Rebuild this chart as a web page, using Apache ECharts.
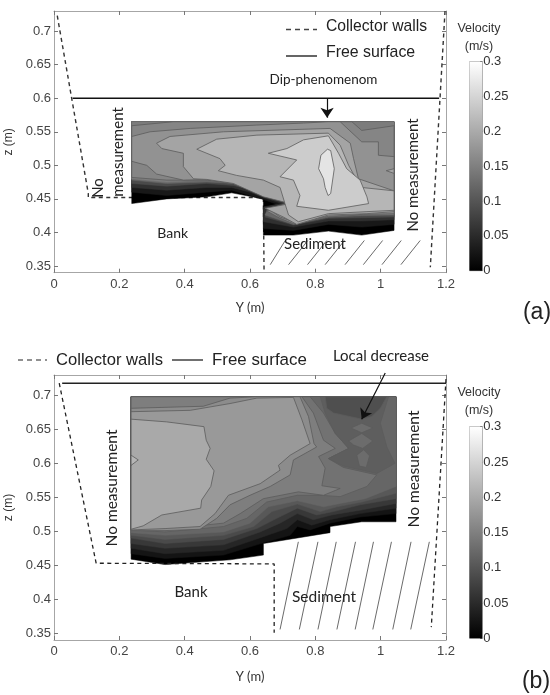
<!DOCTYPE html>
<html><head><meta charset="utf-8">
<style>html,body{margin:0;padding:0;background:#fff}#c{width:550px;height:695px}</style>
<script src="https://cdn.jsdelivr.net/npm/echarts@6/dist/echarts.min.js"></script>
</head><body><div id="c"></div>
<script>
// ---- axis values
const yTicks = [0,0.2,0.4,0.6,0.8,1,1.2];
const zTicks = [0.35,0.4,0.45,0.5,0.55,0.6,0.65,0.7];
const velocityTicks = [0,0.05,0.1,0.15,0.2,0.25,0.3];

// ---- panel (a): measured section outline and bottom bands (edge read left to right, z above is filled)
const a_outline = [[.238,.565],[1.041,.565],[1.041,.403],[.942,.396],[.840,.402],[.733,.396],[.641,.396],[.641,.450],[.544,.459],[.468,.453],[.345,.450],[.238,.443]];
const a_band1 = [[.238,.460],[.345,.455],[.468,.460],[.544,.463],[.600,.455],[.641,.449],[.682,.442],[.641,.436],[.641,.406],[.733,.403],[.840,.412],[.942,.408],[1.041,.412]];
const a_band2 = [[.238,.467],[.345,.463],[.468,.467],[.544,.467],[.600,.460],[.641,.452],[.697,.443],[.641,.438],[.641,.416],[.733,.408],[.840,.417],[.942,.417],[1.041,.419]];
const a_band3 = [[.238,.473],[.345,.469],[.468,.473],[.549,.470],[.611,.463],[.651,.453],[.707,.444],[.651,.433],[.646,.423],[.733,.411],[.840,.421],[.942,.422],[1.041,.423]];
const a_band4 = [[.238,.478],[.345,.473],[.468,.475],[.559,.473],[.631,.458],[.672,.450],[.718,.444],[.651,.431],[.646,.426],[.733,.412],[.840,.423],[.942,.425],[1.041,.426]];
const a_band5 = [[.238,.480],[.345,.475],[.468,.478],[.549,.473],[.631,.459],[.718,.444],[.656,.433],[.733,.414],[.840,.424],[.942,.426],[1.041,.427]];
const a_bandVelocity = [0,.028,.056,.087,.122,.146];
// panel (a): closed contour regions
const a_c1 = [[.238,.559],[.365,.565],[.912,.565],[.942,.552],[1.041,.559],[1.041,.426],[.942,.426],[.840,.423],[.733,.413],[.692,.421],[.651,.432],[.718,.444],[.631,.459],[.549,.473],[.468,.478],[.345,.478],[.238,.482]];
const a_c2 = [[.238,.543],[.294,.550],[.417,.555],[.621,.560],[.764,.563],[.840,.565],[.876,.565],[.942,.535],[.993,.535],[.993,.515],[1.041,.513],[1.041,.428],[.948,.427],[.840,.424],[.733,.416],[.692,.423],[.656,.436],[.723,.443],[.631,.458],[.549,.473],[.468,.479],[.396,.478],[.314,.487],[.284,.500],[.238,.506]];
const a_c3 = [[.314,.533],[.355,.543],[.519,.550],[.845,.555],[.907,.533],[.917,.510],[.932,.480],[1.041,.462],[1.041,.431],[.958,.428],[.840,.426],[.743,.412],[.702,.423],[.646,.436],[.723,.443],[.641,.453],[.549,.473],[.468,.479],[.427,.480],[.396,.498],[.396,.518],[.330,.525]];
const a_c3b = [[1.017,.492],[1.041,.495],[1.041,.488]];
const a_c4 = [[.437,.524],[.498,.539],[.621,.545],[.840,.548],[.876,.530],[.902,.500],[.927,.478],[.942,.467],[1.041,.462],[1.041,.433],[.958,.431],[.840,.428],[.748,.416],[.718,.426],[.707,.443],[.692,.467],[.641,.478],[.559,.485],[.503,.492],[.524,.500],[.508,.510]];
const a_c5 = [[.656,.518],[.713,.525],[.764,.538],[.840,.544],[.871,.518],[.896,.495],[.937,.478],[.958,.453],[.963,.443],[.840,.433],[.743,.439],[.753,.455],[.733,.478],[.692,.483],[.743,.508]];
const a_c6 = [[.837,.524],[.847,.522],[.858,.495],[.847,.458],[.839,.455],[.830,.467],[.825,.480],[.810,.495],[.817,.515]];
const a_contours = [a_c1,a_c2,a_c3,a_c3b,a_c4,a_c5,a_c6];
const a_contourVelocity = [.156,.172,.193,.193,.214,.24,.268];
// panel (a): walls, surface, hatching
const a_wallLeft = [[.01,.723],[.105,.458],[.105,.452],[.641,.452],[.643,.343]];
const a_wallRight = [[1.197,.73],[1.152,.348]];
const a_surface = [[.057,.6],[1.179,.6]];
const a_hatchBottom = [.662,.718,.776,.830,.891,.947,1.004,1.062];
const a_hatchTop = [.708,.777,.835,.889,.950,1.006,1.063,1.121];
const a_arrow = [[.836,.6],[.836,.571]];

// ---- panel (b)
const b_outline = [[.236,.698],[1.047,.698],[1.047,.514],[.942,.514],[.845,.507],[.845,.498],[.641,.482],[.641,.465],[.539,.458],[.340,.451],[.236,.459]];
const b_band1 = [[.236,.467],[.340,.460],[.519,.465],[.641,.483],[.723,.494],[.745,.507],[.784,.502],[.845,.512],[.937,.521],[1.047,.526]];
const b_band2 = [[.236,.475],[.340,.467],[.519,.472],[.641,.492],[.713,.504],[.745,.517],[.789,.509],[.845,.517],[.937,.526],[1.047,.534]];
const b_band3 = [[.236,.482],[.340,.475],[.519,.480],[.631,.499],[.692,.512],[.745,.526],[.794,.517],[.850,.524],[.937,.531],[1.047,.541]];
const b_band4 = [[.236,.490],[.340,.482],[.519,.488],[.621,.504],[.682,.519],[.745,.534],[.804,.524],[.856,.529],[.937,.539],[1.047,.548]];
const b_band5 = [[.236,.494],[.340,.488],[.519,.494],[.611,.507],[.667,.529],[.745,.540],[.815,.529],[.866,.536],[.942,.543],[1.047,.556]];
const b_band6 = [[.236,.498],[.340,.494],[.519,.499],[.600,.512],[.656,.536],[.745,.545],[.825,.536],[.876,.541],[.953,.548],[1.047,.566]];
const b_bandVelocity = [0,.024,.045,.066,.087,.104,.12];
const b_c1 = [[.236,.698],[.784,.698],[.825,.674],[.861,.644],[.902,.622],[.840,.607],[.886,.594],[.988,.583],[.958,.566],[.876,.551],[.815,.553],[.745,.553],[.651,.543],[.590,.519],[.519,.507],[.340,.499],[.236,.502]];
const b_c2 = [[.236,.698],[.759,.698],[.794,.674],[.825,.634],[.861,.622],[.810,.610],[.830,.593],[.820,.567],[.876,.563],[.825,.553],[.748,.558],[.641,.548],[.570,.526],[.519,.512],[.340,.503],[.236,.503]];
const b_c3 = [[.236,.681],[.457,.684],[.539,.696],[.621,.698],[.753,.698],[.779,.669],[.796,.629],[.804,.624],[.733,.605],[.723,.583],[.662,.566],[.600,.553],[.539,.539],[.498,.519],[.447,.503],[.340,.501],[.236,.501]];
const b_c4 = [[.236,.676],[.417,.678],[.539,.688],[.621,.696],[.733,.697],[.759,.664],[.784,.629],[.723,.612],[.687,.597],[.692,.590],[.631,.570],[.534,.553],[.493,.526],[.447,.507],[.340,.504],[.236,.502]];
const b_c5 = [[.236,.665],[.345,.661],[.459,.654],[.466,.634],[.478,.622],[.466,.606],[.490,.589],[.480,.566],[.452,.546],[.449,.534],[.330,.524],[.273,.508],[.236,.503]];
const b_c5b = [[.236,.612],[.258,.605],[.236,.597]];
const b_d2 = [[.815,.698],[1.024,.698],[.999,.659],[1.019,.624],[1.044,.600],[.988,.585],[.886,.596],[.840,.607],[.902,.622],[.861,.644],[.830,.674]];
const b_d1 = [[.830,.698],[1.019,.698],[.999,.681],[.973,.669],[.942,.665],[.856,.674],[.835,.681]];
const b_spot1 = [[.909,.652],[.942,.659],[.976,.652],[.942,.645]];
const b_spot2 = [[.902,.633],[.942,.644],[.976,.633],[.945,.622],[.917,.627]];
const b_spot3 = [[.927,.612],[.948,.620],[.966,.611],[.956,.594],[.935,.596]];
const b_contours = [b_c1,b_c2,b_c3,b_c4,b_c5,b_c5b,b_d2,b_d1,b_spot1,b_spot2,b_spot3];
const b_contourVelocity = [.134,.148,.165,.18,.199,.214,.111,.093,.127,.127,.127];
const b_wallLeft = [[.016,.718],[.129,.453],[.129,.452],[.674,.452],[.674,.3505]];
const b_wallRight = [[1.2,.724],[1.155,.359]];
const b_surface = [[.025,.718],[1.2,.718]];
const b_hatchBottom = [.692,.751,.808,.866,.922,.976,1.037,1.092];
const b_hatchTop = [.748,.808,.864,.923,.978,1.033,1.093,1.149];
const b_arrow = [[1.014,.733],[.942,.665]];

// ---- helpers
const VMAX = 0.3, zMin = 0.34, zMax = 0.73, yMin = 0, yMax = 1.2;
const gray = v => { const g = Math.round(v / VMAX * 255); return `rgb(${g},${g},${g})`; };
function closeBand(edge, top){ return edge.concat([[edge[edge.length-1][0],top],[edge[0][0],top]]); }

function contourSeries(outline, bands, bandV, contours, contourV, axis){
  const polys = [{p:outline,v:bandV[0],line:false}];
  const top = outline[0][1];
  bands.forEach((b,i)=>polys.push({p:closeBand(b,top),v:bandV[i+1],line:false}));
  contours.forEach((c,i)=>polys.push({p:c,v:contourV[i],line:true}));
  return {
    type:'custom', xAxisIndex:axis, yAxisIndex:axis, silent:true, animation:false, z:2,
    data: polys.map((_,i)=>[i]),
    renderItem:(params,api)=>{
      const d = polys[api.value(0)];
      return {type:'polygon', shape:{points:d.p.map(q=>api.coord(q))},
        style:{fill:gray(d.v), stroke:d.line?'#5c5c5c':gray(d.v), lineWidth:d.line?0.8:0.5}};
    }
  };
}
const lineS = (data,axis,dash,width,color,z)=>({type:'line',xAxisIndex:axis,yAxisIndex:axis,data,symbol:'none',silent:true,animation:false,z:z||3,
  lineStyle:{color,width,type:dash?[4,3.5]:'solid'}});
const hatchS = (bot,top,zb,zt,axis)=>({type:'lines',coordinateSystem:'cartesian2d',xAxisIndex:axis,yAxisIndex:axis,silent:true,animation:false,z:1,
  lineStyle:{color:'#444',width:0.8,opacity:1},data:bot.map((b,i)=>({coords:[[b,zb],[top[i],zt]]}))});
const arrowS = (pts,axis,size)=>({type:'lines',coordinateSystem:'cartesian2d',xAxisIndex:axis,yAxisIndex:axis,silent:true,animation:false,z:5,clip:false,
  symbol:['none','arrow'],symbolSize:size,lineStyle:{color:'#111',width:1.2,opacity:1,curveness:0},data:[{coords:pts}]});

const axisCol='#a6a6a6', tickCol='#777', labCol='#444', sans='"Liberation Sans",Arial,sans-serif', cal='Lato,"Open Sans",sans-serif';
function xAx(grid,top,gap){return {type:'value',gridIndex:grid,min:yMin,max:yMax,interval:0.2,position:top?'top':'bottom',
  name:top?'':'Y (m)',nameLocation:'middle',nameGap:gap||29,nameTextStyle:{fontFamily:cal,fontSize:13,color:'#333'},
  axisLine:{show:true,onZero:false,lineStyle:{color:axisCol,width:1}},axisTick:{show:true,inside:true,length:4,lineStyle:{color:tickCol}},
  axisLabel:{show:!top,fontFamily:sans,fontSize:13,color:labCol,margin:5,hideOverlap:false},splitLine:{show:false}};}
function zAx(grid,right){return {type:'value',gridIndex:grid,min:zMin,max:zMax,position:right?'right':'left',
  name:right?'':'z (m)',nameLocation:'middle',nameGap:32,nameTextStyle:{fontFamily:sans,fontSize:12,color:'#333'},
  axisLine:{show:true,onZero:false,lineStyle:{color:axisCol,width:1}},axisTick:{show:true,inside:true,length:4,customValues:zTicks,lineStyle:{color:tickCol}},
  axisLabel:{show:!right,customValues:zTicks,formatter:v=>String(+(+v).toFixed(2)),fontFamily:sans,fontSize:13,color:labCol,margin:3},splitLine:{show:false}};}
const cbX = g=>({type:'category',gridIndex:g,data:[''],show:false});
const cbY = g=>({type:'value',gridIndex:g,min:0,max:VMAX,interval:0.05,position:'right',
  axisLine:{show:true,lineStyle:{color:axisCol}},axisTick:{show:true,inside:true,length:2,lineStyle:{color:'#555'}},
  axisLabel:{fontFamily:sans,fontSize:13,color:'#333',margin:1,formatter:v=>String(+(+v).toFixed(2))},splitLine:{show:false}});
const cbS = a=>({type:'bar',xAxisIndex:a,yAxisIndex:a,data:[VMAX],barWidth:'100%',silent:true,animation:false,
  itemStyle:{color:new echarts.graphic.LinearGradient(0,0,0,1,[{offset:0,color:'#ffffff'},{offset:1,color:'#000000'}])}});

const txt=(text,x,y,size,font,opt={})=>({type:'text',x,y,rotation:opt.rot||0,silent:true,z:10,
  style:{text,fontSize:size,fontFamily:font,fill:opt.fill||'#222',textAlign:opt.align||'center',textVerticalAlign:'middle',verticalAlign:'middle'}});
const R=Math.PI/2;

const chart=echarts.init(document.getElementById('c'),null,{renderer:'canvas'});
chart.setOption({
  animation:false,
  grid:[
    {left:54,top:11,width:392,height:261.7,outerBoundsMode:'none'},
    {left:54,top:375,width:392,height:265,outerBoundsMode:'none'},
    {left:469.5,top:61.7,width:12.7,height:209,show:true,borderColor:axisCol,backgroundColor:'#fff',outerBoundsMode:'none'},
    {left:469.5,top:426.7,width:12.7,height:211.6,show:true,borderColor:axisCol,backgroundColor:'#fff',outerBoundsMode:'none'}
  ],
  xAxis:[xAx(0,false,29),xAx(0,true),xAx(1,false,30),xAx(1,true),cbX(2),cbX(3)],
  yAxis:[zAx(0,false),zAx(0,true),zAx(1,false),zAx(1,true),cbY(2),cbY(3)],
  series:[
    hatchS(a_hatchBottom,a_hatchTop,.352,.388,0),
    contourSeries(a_outline,[a_band1,a_band2,a_band3,a_band4,a_band5],a_bandVelocity,a_contours,a_contourVelocity,0),
    lineS(a_wallLeft,0,true,1.4,'#333',1),
    lineS(a_wallRight,0,true,1.4,'#333'),
    lineS(a_surface,0,false,1.5,'#111'),
    arrowS(a_arrow,0,10),
    hatchS(b_hatchBottom,b_hatchTop,.3555,.4845,2),
    contourSeries(b_outline,[b_band1,b_band2,b_band3,b_band4,b_band5,b_band6],b_bandVelocity,b_contours,b_contourVelocity,2),
    lineS(b_wallLeft,2,true,1.3,'#222'),
    lineS(b_wallRight,2,true,1.3,'#222'),
    lineS(b_surface,2,false,1.5,'#222'),
    arrowS(b_arrow,2,10),
    cbS(4),cbS(5)
  ],
  graphic:{elements:[
    {type:'line',silent:true,shape:{x1:286,y1:29.5,x2:317,y2:29.5},style:{stroke:'#444',lineWidth:1.4,lineDash:[5,4]}},
    {type:'line',silent:true,shape:{x1:286,y1:56,x2:317,y2:56},style:{stroke:'#111',lineWidth:1.3}},
    txt('Collector walls',326,27,15.7,sans,{align:'left'}),
    txt('Free surface',326,53,15.9,sans,{align:'left'}),
    txt('Dip-phenomenom',323.5,80,13.5,cal),
    txt('No',98,188,15,cal,{rot:R}),
    txt('measurement',118,152,15,cal,{rot:R}),
    txt('No measurement',413,175,15,cal,{rot:R}),
    txt('Bank',172.7,233,14,cal),
    txt('Sediment',315,244,15,cal),
    txt('Velocity',479,29,12.5,sans,{fill:'#333'}),
    txt('(m/s)',479,46.7,12.5,sans,{fill:'#333'}),
    txt('(a)',537,313,23,sans),

    {type:'line',silent:true,shape:{x1:18,y1:360,x2:47,y2:360},style:{stroke:'#222',lineWidth:1.2,lineDash:[5,4]}},
    {type:'line',silent:true,shape:{x1:172,y1:360,x2:203,y2:360},style:{stroke:'#111',lineWidth:1.2}},
    txt('Collector walls',56,360,16.6,sans,{align:'left'}),
    txt('Free surface',212,360,16.9,sans,{align:'left'}),
    txt('Local decrease',381,356,15,cal),
    txt('No measurement',112,488,15.5,cal,{rot:R}),
    txt('No measurement',414,469,15.5,cal,{rot:R}),
    txt('Bank',191,592,15,cal),
    txt('Sediment',324,597,15.5,cal),
    txt('Velocity',479,393,12.5,sans,{fill:'#333'}),
    txt('(m/s)',479,411,12.5,sans,{fill:'#333'}),
    txt('(b)',536,682,23,sans)
  ]}
});
</script></body></html>
